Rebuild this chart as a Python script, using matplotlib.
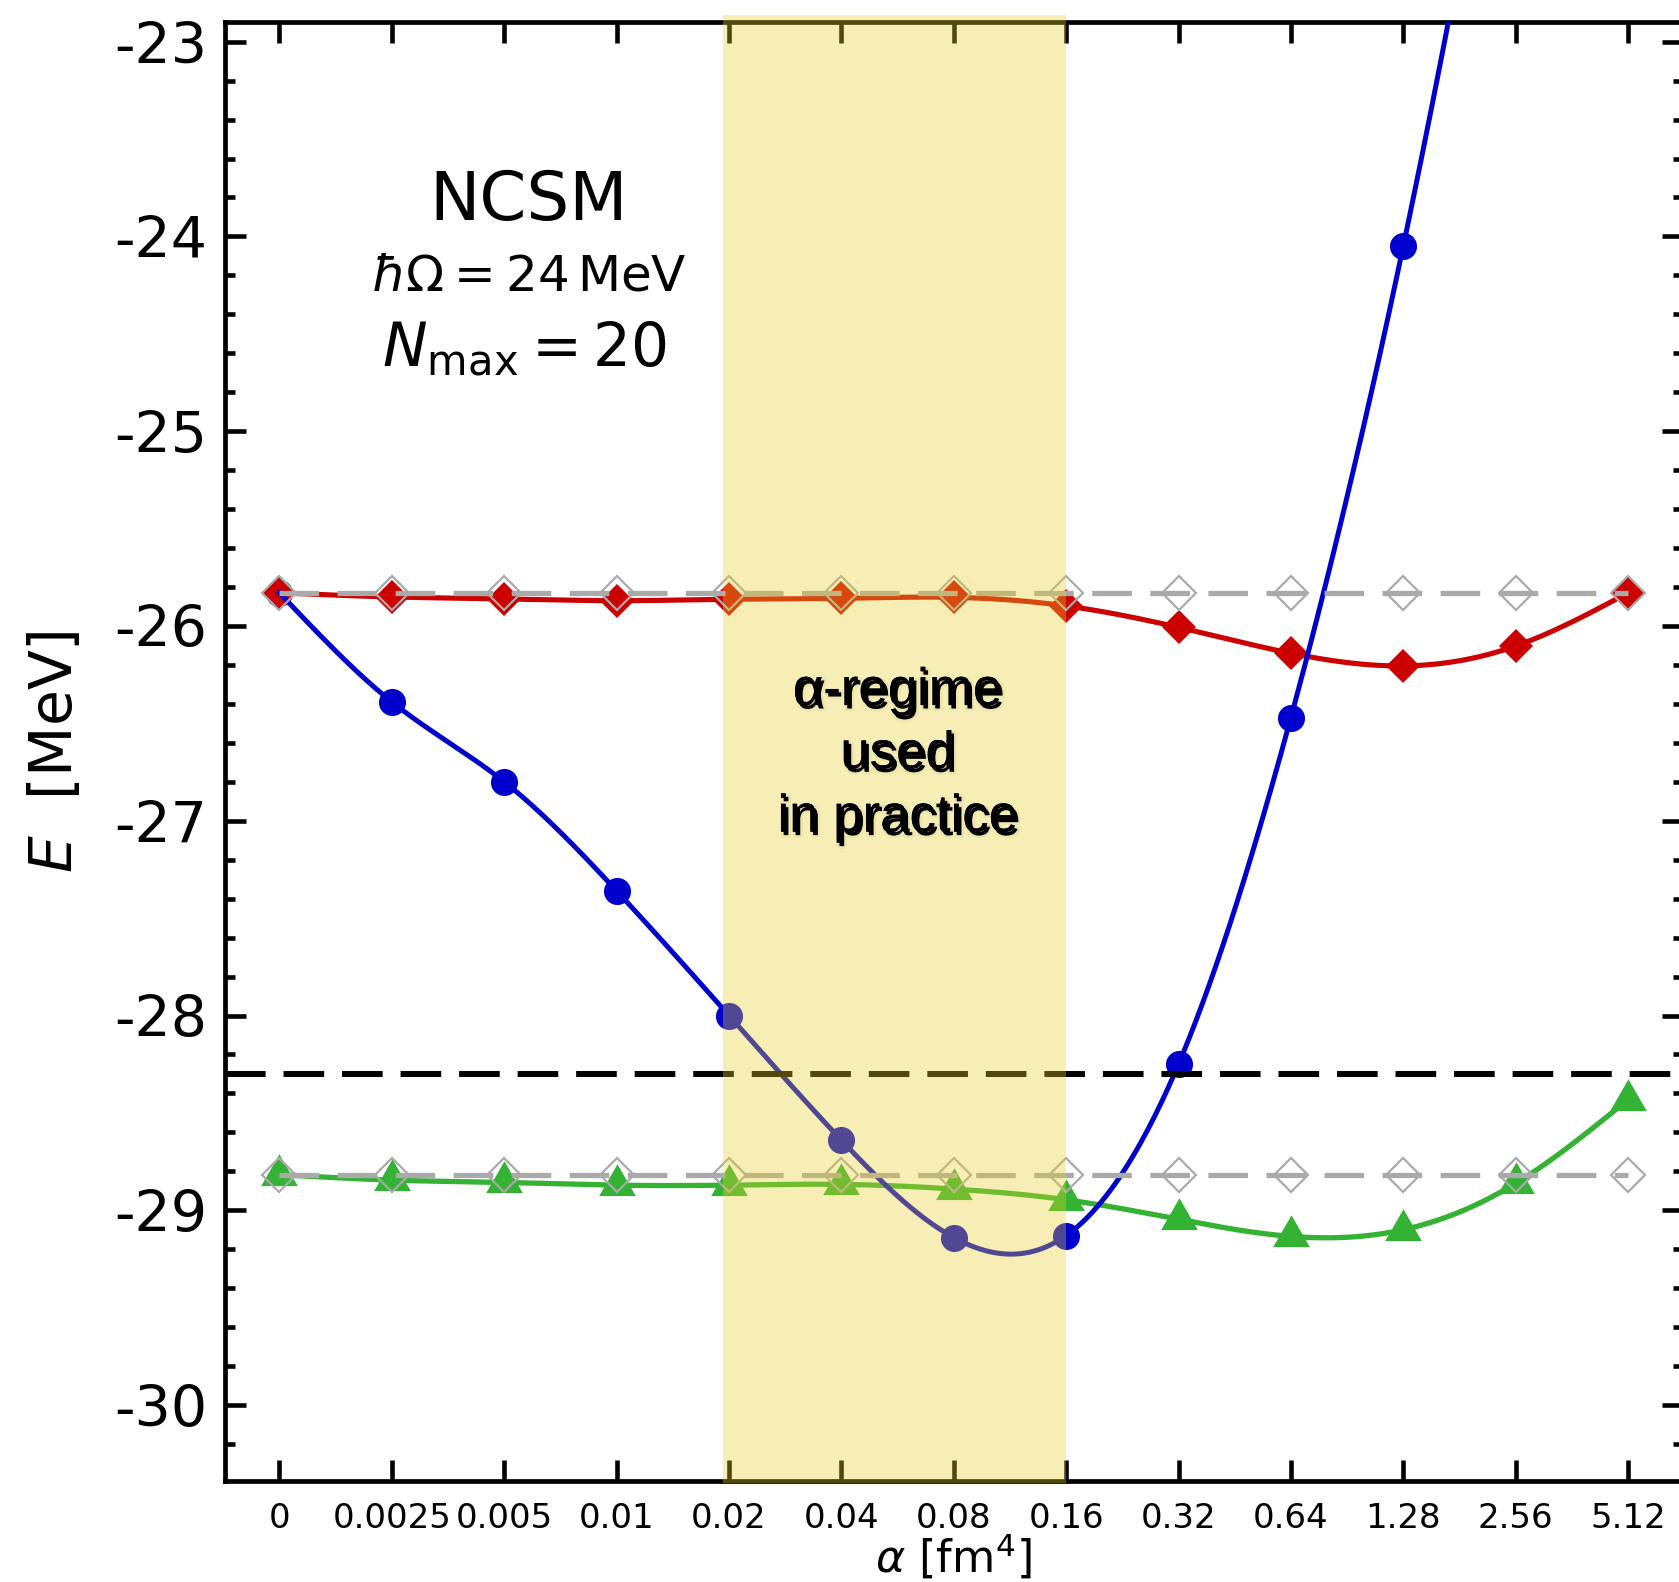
"""NCSM ground-state energy vs. alpha (regulator strength)."""

import numpy as np

import matplotlib
matplotlib.use("Agg")
import matplotlib.pyplot as plt
import matplotlib.patheffects as pe
from matplotlib.patches import Rectangle
from matplotlib.path import Path
from matplotlib.ticker import MultipleLocator

plt.rcParams["axes.unicode_minus"] = False
plt.rcParams["mathtext.fontset"] = "dejavusans"

# --- data ---
ALPHA_LABELS = ["0", "0.0025", "0.005", "0.01", "0.02", "0.04", "0.08",
                "0.16", "0.32", "0.64", "1.28", "2.56", "5.12"]
E_CIRCLE = [-25.83, -26.39, -26.80, -27.36, -28.00, -28.64, -29.14,
            -29.13, -28.25, -26.47, -24.05, -21.0, -17.5]
E_DIAMOND = [-25.83, -25.851, -25.861, -25.870, -25.863, -25.858, -25.853,
             -25.897, -26.007, -26.140, -26.205, -26.103, -25.83]
E_TRIANGLE = [-28.817, -28.845, -28.857, -28.871, -28.871, -28.867, -28.891,
              -28.946, -29.046, -29.134, -29.100, -28.862, -28.432]
E_REF_UPPER = -25.832     # open grey diamonds, upper
E_REF_LOWER = -28.819     # open grey diamonds, lower
E_EXACT = -28.30          # black dashed line
REGIME = (3.95, 7.0)      # shaded alpha-regime (category positions)

BLUE = "#0000CC"
RED = "#CC0000"
GREEN = "#33B233"
GREY = "#AAAAAA"


def natural_spline(x, y, xs):
    """Natural cubic spline through (x, y), evaluated at xs (for the smooth lines)."""
    x = np.asarray(x, float)
    y = np.asarray(y, float)
    n = len(x)
    h = np.diff(x)
    A = np.zeros((n, n))
    rhs = np.zeros(n)
    A[0, 0] = A[-1, -1] = 1.0
    for i in range(1, n - 1):
        A[i, i - 1] = h[i - 1]
        A[i, i] = 2 * (h[i - 1] + h[i])
        A[i, i + 1] = h[i]
        rhs[i] = 3 * ((y[i + 1] - y[i]) / h[i] - (y[i] - y[i - 1]) / h[i - 1])
    c = np.linalg.solve(A, rhs)
    b = (y[1:] - y[:-1]) / h - h * (2 * c[:-1] + c[1:]) / 3
    d = (c[1:] - c[:-1]) / (3 * h)
    idx = np.clip(np.searchsorted(x, xs) - 1, 0, n - 2)
    dx = xs - x[idx]
    return y[idx] + b[idx] * dx + c[idx] * dx ** 2 + d[idx] * dx ** 3


# triangle centred on its centroid
TRI = Path([(0, 1), (-0.866, -0.5), (0.866, -0.5), (0, 1)],
           [Path.MOVETO, Path.LINETO, Path.LINETO, Path.CLOSEPOLY])

x = np.arange(len(ALPHA_LABELS))
xs = np.linspace(0, len(x) - 1, 600)

fig = plt.figure(figsize=(16.79, 15.82), dpi=100)
ax = fig.add_axes([0.1340, 0.06384, 0.8681, 0.92225])

# markers
ax.plot(x, E_CIRCLE, ls="none", marker="o", ms=19.5, color=BLUE, mew=0, zorder=3)
ax.plot(x, E_DIAMOND, ls="none", marker="D", ms=17, color=RED, mew=0, zorder=3)
ax.plot(x, E_TRIANGLE, ls="none", marker=TRI, ms=30.5, color=GREEN, mew=0, zorder=3)

# smooth lines
ax.plot(xs, natural_spline(x, E_DIAMOND, xs), color=RED, lw=3.7, zorder=4)
ax.plot(xs, natural_spline(x, E_TRIANGLE, xs), color=GREEN, lw=3.8, zorder=4)
ax.plot(xs, natural_spline(x, E_CIRCLE, xs), color=BLUE, lw=3.6, zorder=4)

# grey references
for e_ref in (E_REF_UPPER, E_REF_LOWER):
    ax.plot(x, np.full(len(x), e_ref), color=GREY, lw=3.8, ls="--",
            dashes=(7.5, 3.5), marker="D", ms=17.5, mfc="none", mec=GREY,
            mew=1.6, zorder=5)

ax.axhline(E_EXACT, color="black", lw=4.3, ls="--", dashes=(6.8, 3.0), zorder=5)

# shaded alpha-regime band (sits over everything, as in the original)
ax.add_patch(Rectangle((REGIME[0], -0.0014), REGIME[1] - REGIME[0], 1.0062,
                       transform=ax.get_xaxis_transform(), facecolor="#EAD12B",
                       alpha=0.35, edgecolor="none", clip_on=False, zorder=10))

shadow = [pe.Stroke(linewidth=4, foreground=(0, 0, 0, 0.035), offset=(2, -2.5)),
          pe.withSimplePatchShadow(offset=(1.5, -1.8), shadow_rgbFace="black",
                                   alpha=0.14),
          pe.Normal()]
for line, ybase in (("α-regime", -26.406), ("used", -26.731),
                    ("in practice", -27.056)):
    ax.text(5.5, ybase, line, family="Liberation Sans", fontsize=38,
            ha="center", va="baseline", zorder=11, path_effects=shadow)

ax.text(2.22, -23.916, "NCSM", fontsize=48.5, ha="center", va="baseline")
ax.text(2.22, -24.275, r"$\hbar\Omega = 24\,\mathrm{MeV}$", fontsize=36,
        ha="center", va="baseline")
ax.text(2.18, -24.669, r"$N_\mathrm{max} = 20$", fontsize=43,
        ha="center", va="baseline")

ax.set_xlim(-0.485, 12.485)
ax.set_ylim(-30.39, -22.899)
ax.set_xticks(x)
ax.set_xticklabels(ALPHA_LABELS)
ax.yaxis.set_major_locator(MultipleLocator(1))
ax.yaxis.set_minor_locator(MultipleLocator(0.2))

ax.tick_params(axis="both", which="both", direction="in", top=True, right=True,
               width=3.3)
ax.tick_params(axis="both", which="major", length=15)
ax.tick_params(axis="y", which="minor", length=7.5)
ax.tick_params(axis="x", which="major", labelsize=24.5, pad=15)
ax.tick_params(axis="y", which="major", labelsize=41, pad=13)
for sp in ax.spines.values():
    sp.set_linewidth(3.4)

ax.set_ylabel(r"$E$  [MeV]", fontsize=42)
ax.yaxis.set_label_coords(-0.0967, 0.5)
ax.set_xlabel(r"$\alpha$ [fm$^4$]", fontsize=32)
ax.xaxis.set_label_coords(0.5, -0.035)

fig.savefig("out.png", dpi=100)
